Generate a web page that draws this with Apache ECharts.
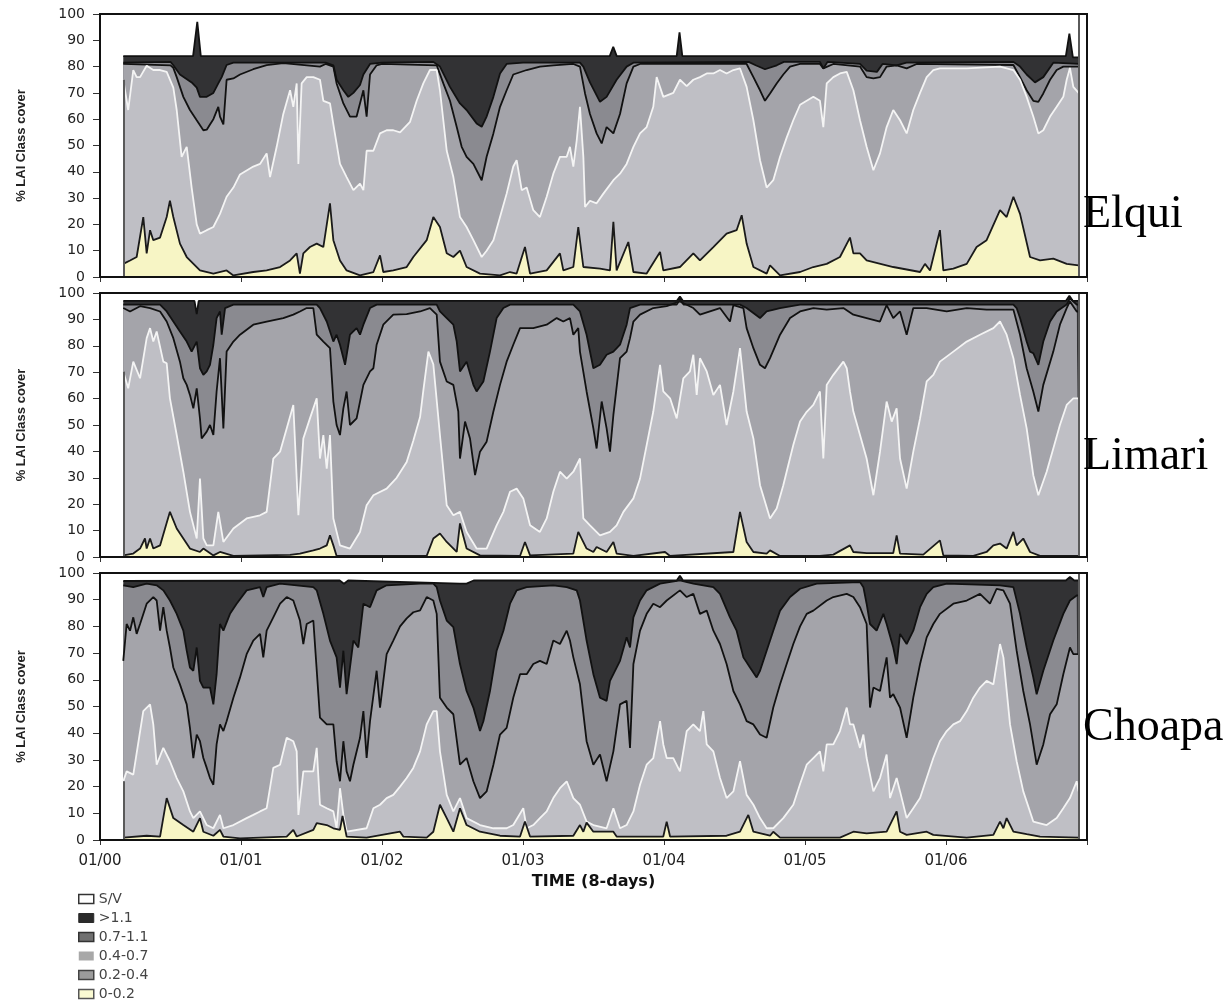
<!DOCTYPE html>
<html>
<head>
<meta charset="utf-8">
<script src="https://cdn.jsdelivr.net/npm/echarts@6/dist/echarts.min.js"></script>
<style>html,body{margin:0;padding:0;background:#fff}#chart{width:1232px;height:1001px}</style>
</head>
<body>
<div id="chart"></div>
<script>
// x values are decimal years since 01/2000; y values are cumulative % LAI class cover
const xTickLabels = ['01/00','01/01','01/02','01/03','01/04','01/05','01/06'];
const classNames = ['S/V','>1.1','0.7-1.1','0.4-0.7','0.2-0.4','0-0.2'];
const regionNames = ['Elqui','Limari','Choapa'];

// total of all classes (S/V included)
const allClasses = [[0.165,100],[6.94,100]];

// ---------- Elqui ----------
const elquiTop = [[0.165,84],[0.66,84],[0.69,97],[0.715,84],[3.615,84],[3.64,87.5],[3.665,84],[4.09,84],[4.11,93],[4.13,84],[6.85,84],[6.875,92.5],[6.9,83.5],[6.94,83.5]];
const elquiLt11 = [[0.165,81.5],[0.5,81.8],[0.52,80.5],[0.567,77],[0.65,74],[0.686,72],[0.709,68.5],[0.757,68.5],[0.804,70],[0.839,73.6],[0.863,76],[0.898,80.6],[0.946,81.5],[1.6,81.5],[1.655,80.5],[1.678,75],[1.726,71],[1.761,68.5],[1.797,70],[1.844,73],[1.868,77],[1.915,81],[2.0,81.5],[2.364,81.8],[2.411,80],[2.482,72.3],[2.553,66],[2.6,63.5],[2.671,58.4],[2.707,57.1],[2.742,61],[2.79,68.5],[2.837,77.4],[2.884,81],[3.0,81.5],[3.404,81.5],[3.428,80],[3.475,74],[3.546,66.6],[3.593,68.5],[3.664,75],[3.735,80],[3.783,81.5],[4.6,81.8],[4.65,80.5],[4.716,79],[4.8,80.5],[4.85,81.8],[5.106,81.8],[5.13,79.3],[5.16,81.8],[5.39,81],[5.437,78.5],[5.51,78],[5.55,81],[5.65,80.5],[5.72,81.5],[6.478,81.8],[6.525,80],[6.572,77],[6.631,74],[6.69,76],[6.761,81.5],[6.94,81]];
const elquiLt07 = [[0.165,81],[0.5,80.5],[0.52,79.5],[0.544,76],[0.591,68.5],[0.638,63.5],[0.686,59.6],[0.733,55.8],[0.757,56],[0.78,58],[0.804,60],[0.839,64.7],[0.851,61],[0.875,58],[0.898,75],[0.946,75.5],[0.993,77],[1.087,79],[1.182,80.6],[1.3,81.3],[1.56,80],[1.6,81],[1.655,80],[1.678,73.6],[1.726,66],[1.773,61],[1.82,61],[1.868,71],[1.891,61],[1.915,77],[1.962,80.5],[2.0,81],[2.388,80.5],[2.435,73.6],[2.482,67],[2.53,57],[2.565,49.5],[2.6,45.7],[2.648,43],[2.707,36.8],[2.742,45.7],[2.79,54.6],[2.837,64.7],[2.884,71],[2.931,77],[3.026,78.7],[3.12,80],[3.215,80.5],[3.357,81],[3.404,80],[3.44,69.8],[3.475,62],[3.522,54.6],[3.558,50.8],[3.593,57],[3.641,54.6],[3.688,62],[3.735,73.6],[3.783,80],[3.83,81],[4.586,81],[4.634,76],[4.681,71],[4.716,67],[4.752,69.8],[4.799,73.6],[4.846,77],[4.894,80],[4.965,81],[5.106,81],[5.13,79.3],[5.201,81],[5.39,80],[5.437,76],[5.485,75.5],[5.532,76],[5.579,80],[5.65,80.5],[5.721,79.3],[5.792,81],[6.478,80.6],[6.525,76],[6.572,71],[6.619,67],[6.655,66.6],[6.69,69.8],[6.738,75],[6.785,78.7],[6.832,80],[6.94,80]];
const elquiLt04 = [[0.165,75],[0.2,63.5],[0.236,78.7],[0.26,76],[0.284,76],[0.331,80.3],[0.378,78.7],[0.426,78.7],[0.473,78],[0.52,72],[0.544,63.5],[0.579,45.7],[0.615,49.5],[0.65,34],[0.686,20],[0.709,16.5],[0.757,17.8],[0.804,19],[0.851,24],[0.898,30.5],[0.946,34],[0.993,39],[1.087,42],[1.135,43],[1.182,47],[1.206,38],[1.253,49.5],[1.3,62],[1.348,71],[1.371,64.7],[1.395,73.6],[1.407,43],[1.43,73.6],[1.466,76],[1.513,76],[1.56,75],[1.584,67],[1.631,66],[1.655,58],[1.702,43],[1.749,38],[1.797,33],[1.844,35.5],[1.868,33],[1.891,48],[1.939,48],[1.986,54.6],[2.033,55.8],[2.08,55.8],[2.128,55],[2.199,59],[2.246,67],[2.293,73.6],[2.34,78.7],[2.388,78.7],[2.411,71],[2.459,48],[2.506,38],[2.553,22.8],[2.6,19],[2.648,14],[2.707,7.6],[2.742,10],[2.79,14],[2.837,22.8],[2.884,31.7],[2.931,42],[2.955,44.4],[2.991,33],[3.026,34],[3.073,25.4],[3.12,22.8],[3.168,30.5],[3.215,39.3],[3.262,45.7],[3.31,45.7],[3.333,49.5],[3.357,42],[3.381,52],[3.404,64.7],[3.428,45.7],[3.44,26.6],[3.475,29],[3.522,28],[3.57,31.7],[3.641,36.8],[3.688,39.3],[3.735,43],[3.783,49.5],[3.83,54.6],[3.877,57],[3.924,64.7],[3.948,76],[3.995,68.5],[4.066,70],[4.113,75],[4.161,72.6],[4.208,75],[4.255,76],[4.303,77.4],[4.35,77.4],[4.397,78.7],[4.444,77.4],[4.492,78.7],[4.539,79.3],[4.586,72.3],[4.634,59.6],[4.681,44.4],[4.728,34],[4.775,36.8],[4.823,45.7],[4.87,53],[4.917,59.6],[4.965,65.5],[5.012,67],[5.059,68.5],[5.106,67],[5.13,57],[5.154,73.6],[5.201,76],[5.248,77.4],[5.296,78],[5.343,71],[5.39,59.6],[5.437,49.5],[5.485,40.6],[5.532,47],[5.579,57],[5.626,63.5],[5.674,59.6],[5.721,54.6],[5.768,63.5],[5.816,70],[5.863,76],[5.91,78.7],[5.957,79.3],[6.147,79.3],[6.383,80],[6.478,78.7],[6.525,75],[6.572,68.5],[6.619,61],[6.655,54.6],[6.69,55.8],[6.738,61],[6.785,64.7],[6.832,68.5],[6.856,75],[6.879,79.5],[6.903,72.3],[6.94,70]];
const elquiLt02 = [[0.165,5],[0.213,6.3],[0.26,7.6],[0.307,22.8],[0.331,9],[0.355,17.8],[0.378,14],[0.426,15],[0.473,22.8],[0.496,29],[0.52,22.8],[0.567,12.7],[0.615,7.6],[0.709,2.5],[0.804,1.3],[0.898,2.5],[0.946,0.6],[1.087,1.9],[1.182,2.5],[1.277,3.8],[1.348,6.3],[1.395,9],[1.418,1.3],[1.442,9],[1.489,11.4],[1.537,12.7],[1.584,11.4],[1.631,28],[1.655,14],[1.702,6.3],[1.749,2.5],[1.844,0.6],[1.939,1.9],[1.986,8.2],[2.009,1.9],[2.08,2.5],[2.175,3.8],[2.222,7.6],[2.317,14],[2.364,22.8],[2.411,19],[2.459,9],[2.506,7.6],[2.553,10],[2.6,3.8],[2.695,1.3],[2.837,0.6],[2.908,1.9],[2.955,1.3],[3.014,11.4],[3.05,1.3],[3.168,2.5],[3.262,9],[3.286,2.5],[3.357,3.8],[3.392,19],[3.428,3.8],[3.546,3.2],[3.617,2.5],[3.641,21],[3.664,2.5],[3.747,13.3],[3.783,1.9],[3.877,1.3],[3.972,9.5],[3.995,2.5],[4.113,3.8],[4.208,9],[4.255,6.3],[4.35,11.4],[4.444,16.5],[4.515,17.8],[4.551,23.5],[4.586,12.7],[4.634,3.8],[4.728,1.3],[4.752,4.4],[4.823,0.6],[4.965,1.9],[5.059,3.8],[5.154,5],[5.248,7.6],[5.319,15],[5.343,9],[5.39,9],[5.437,6.3],[5.626,3.8],[5.816,1.9],[5.851,5],[5.887,2.5],[5.957,17.8],[5.981,2.5],[6.052,3.2],[6.147,5],[6.217,11.4],[6.288,14],[6.383,25.4],[6.43,22.8],[6.478,30.5],[6.525,24],[6.596,7.6],[6.667,6.3],[6.761,7],[6.856,5],[6.94,4.4]];

// ---------- Limari ----------
const limariTop = [[0.165,97],[0.67,97],[0.686,92],[0.7,97],[4.09,97],[4.113,98.7],[4.135,97],[6.85,97],[6.875,99],[6.9,97],[6.94,97]];
const limariLt11 = [[0.165,95.6],[0.426,95.6],[0.473,93],[0.52,89.2],[0.567,85.4],[0.615,81.6],[0.65,77.8],[0.686,81.6],[0.709,71.5],[0.733,69],[0.757,70.3],[0.78,72.8],[0.804,80.4],[0.827,90.5],[0.851,93],[0.863,84.2],[0.887,94.3],[0.946,95.6],[1.537,95.6],[1.56,94.3],[1.608,89.2],[1.655,81.6],[1.678,84.2],[1.702,80.4],[1.738,72.8],[1.773,84.2],[1.82,86.7],[1.844,84.2],[1.868,88],[1.915,94.3],[1.962,95.6],[2.388,95.6],[2.411,93],[2.459,90.5],[2.506,88],[2.53,81.6],[2.553,70.3],[2.6,74],[2.648,65.2],[2.671,62.7],[2.719,66.5],[2.766,77.8],[2.813,90.5],[2.861,94.3],[2.908,95.6],[3.357,95.6],[3.404,93],[3.451,84.2],[3.499,71.5],[3.546,72.8],[3.593,76.6],[3.641,77.8],[3.688,80.4],[3.735,88],[3.759,94.3],[3.83,95.6],[4.09,95.6],[4.113,97.5],[4.14,95.6],[4.539,95.6],[4.586,94.3],[4.681,90.5],[4.728,93],[4.823,94.3],[4.965,95.6],[6.478,95.6],[6.501,94.3],[6.525,90.5],[6.572,81.6],[6.596,77.8],[6.619,77.2],[6.655,72.8],[6.69,81.6],[6.738,89.2],[6.785,93],[6.856,95.6],[6.879,98],[6.927,95.6],[6.94,95.6]];
const limariLt07 = [[0.165,94.3],[0.213,93],[0.284,95],[0.355,94.3],[0.426,93],[0.473,89.2],[0.52,82.9],[0.567,74],[0.591,67.7],[0.615,65.2],[0.638,61.4],[0.662,56.3],[0.686,63.9],[0.709,52.5],[0.721,44.9],[0.757,47.5],[0.78,50],[0.804,46.2],[0.827,62.7],[0.851,75.3],[0.875,48.7],[0.898,77.8],[0.946,81.6],[0.993,84.2],[1.087,88],[1.182,89.2],[1.3,90.5],[1.371,91.8],[1.418,93],[1.466,94.3],[1.513,94.3],[1.537,84.2],[1.584,81.6],[1.631,79.1],[1.655,58.9],[1.678,50],[1.702,46.2],[1.726,56.3],[1.749,62.7],[1.773,50],[1.82,52.5],[1.868,65.2],[1.915,70.3],[1.939,71.5],[1.962,80.4],[2.009,88],[2.08,91.8],[2.175,92],[2.27,93],[2.34,94.3],[2.388,91.8],[2.411,74],[2.459,66.5],[2.506,65.2],[2.541,55.1],[2.553,37.3],[2.589,51.3],[2.624,44.9],[2.66,31],[2.695,39.9],[2.742,43.7],[2.79,55.1],[2.837,65.2],[2.884,74],[2.931,80.4],[2.979,86.7],[3.073,86.7],[3.168,88],[3.239,90.5],[3.286,89.2],[3.333,90.5],[3.357,84.2],[3.392,86.7],[3.404,77.8],[3.451,62.7],[3.499,48.7],[3.522,41.1],[3.558,58.9],[3.593,48.7],[3.617,39.9],[3.641,53.8],[3.688,75.3],[3.735,77.8],[3.759,82.9],[3.783,89.2],[3.83,91.8],[3.924,94.3],[4.019,95],[4.113,96.8],[4.208,94.3],[4.255,91.8],[4.397,94.3],[4.468,89.2],[4.492,95.4],[4.563,94.3],[4.586,86.7],[4.634,79.1],[4.681,72.8],[4.716,71.5],[4.752,75.3],[4.823,84.2],[4.894,90.5],[4.965,93],[5.059,94.3],[5.154,93.7],[5.272,94.3],[5.343,91.8],[5.437,90.5],[5.532,89.2],[5.579,95.4],[5.626,90.5],[5.674,93],[5.721,84.2],[5.768,94.3],[5.863,94.3],[6.005,93],[6.147,94.3],[6.288,93.7],[6.478,93.7],[6.525,84.2],[6.572,71.5],[6.619,62.7],[6.655,55.1],[6.69,65.2],[6.761,77.8],[6.808,88],[6.856,94.3],[6.879,96.8],[6.927,93],[6.94,93]];
const limariLt04 = [[0.165,70.3],[0.2,63.9],[0.236,74],[0.284,67.7],[0.331,82.9],[0.355,86.7],[0.378,81.6],[0.402,85.4],[0.449,74],[0.473,73.4],[0.496,60.1],[0.544,46.2],[0.591,32.3],[0.638,17.1],[0.686,7],[0.709,29.7],[0.733,7],[0.757,4.4],[0.804,4.4],[0.839,17.1],[0.875,5.7],[0.946,10.8],[1.04,14.6],[1.135,15.8],[1.182,17.1],[1.229,37.3],[1.277,39.9],[1.324,48.7],[1.371,57.6],[1.407,15.8],[1.442,44.9],[1.489,52.5],[1.537,60.1],[1.56,37.3],[1.584,46.2],[1.608,33.5],[1.631,46.2],[1.655,14.6],[1.702,4.4],[1.773,3.2],[1.844,9.5],[1.891,19.6],[1.939,23.4],[2.033,25.9],[2.104,30],[2.175,36],[2.222,44],[2.27,53],[2.293,63],[2.329,77.8],[2.364,73],[2.411,46.2],[2.459,19.6],[2.506,15.8],[2.553,17.1],[2.6,9.5],[2.671,3.2],[2.742,3.2],[2.813,12],[2.861,17.1],[2.908,24.7],[2.955,25.9],[3.002,22.2],[3.05,12],[3.12,9.5],[3.168,14.6],[3.215,24.7],[3.262,32.3],[3.31,29.7],[3.357,32.3],[3.404,37.3],[3.428,14.6],[3.475,12],[3.546,8.2],[3.617,9.5],[3.664,12],[3.712,17.1],[3.783,22.2],[3.83,29.7],[3.877,42.4],[3.924,55.1],[3.972,72.8],[3.995,62.7],[4.043,60.1],[4.09,52.5],[4.137,67.7],[4.184,70.3],[4.208,76.6],[4.232,61.4],[4.255,75.3],[4.303,70.3],[4.35,61.4],[4.397,65.2],[4.444,50],[4.492,62.7],[4.539,79.1],[4.586,55.1],[4.634,44.9],[4.681,27.2],[4.752,14.6],[4.799,18.4],[4.846,27.2],[4.917,42.4],[4.965,51.3],[5.012,55],[5.059,57.6],[5.106,62.7],[5.13,37.3],[5.154,65.2],[5.201,69],[5.272,74],[5.296,71.5],[5.319,62.7],[5.343,55.1],[5.39,46.2],[5.437,37.3],[5.485,23.4],[5.532,39.9],[5.579,58.9],[5.615,51.3],[5.65,56.3],[5.674,37.3],[5.721,25.9],[5.768,39.9],[5.816,52.5],[5.863,66.5],[5.91,69],[5.957,74],[6.052,77.8],[6.147,81.6],[6.241,84.2],[6.336,86.7],[6.383,89.2],[6.43,84.2],[6.478,75.3],[6.525,61.4],[6.572,48.7],[6.619,31],[6.655,23.4],[6.714,32.3],[6.761,41.1],[6.808,50],[6.856,57.6],[6.903,60.1],[6.94,60.1]];
const limariLt02 = [[0.165,0.6],[0.236,1.3],[0.284,3.2],[0.319,7],[0.331,3.2],[0.355,7],[0.378,3.2],[0.426,4.4],[0.496,17.1],[0.544,10.8],[0.591,7],[0.638,3.2],[0.709,1.9],[0.733,3.2],[0.804,0.6],[0.851,1.9],[0.946,0.4],[1.348,0.8],[1.418,1.3],[1.513,2.5],[1.56,3.2],[1.608,4.4],[1.631,8.2],[1.655,4.4],[1.667,4.4],[1.678,0.4],[2.317,0.4],[2.364,7],[2.411,8.9],[2.459,5.7],[2.53,1.9],[2.553,12.7],[2.6,3.2],[2.695,0.6],[2.979,0.4],[3.014,5.7],[3.05,0.6],[3.357,1.3],[3.392,9.5],[3.451,3.2],[3.499,1.9],[3.522,3.8],[3.593,1.9],[3.641,5.7],[3.664,1.3],[3.783,0.4],[4.007,1.9],[4.043,0.4],[4.492,1.9],[4.539,17.1],[4.586,5.7],[4.634,1.9],[4.728,1.3],[4.752,2.5],[4.823,0.4],[5.106,0.4],[5.201,0.9],[5.319,4.4],[5.343,1.9],[5.437,1.5],[5.626,1.5],[5.65,8.2],[5.674,1.3],[5.839,0.9],[5.957,6.3],[5.981,0.6],[6.194,0.4],[6.288,1.9],[6.336,4.4],[6.383,5.1],[6.43,3.2],[6.478,9.5],[6.501,4.4],[6.548,7],[6.596,1.9],[6.667,0.4],[6.94,0.4]];

// ---------- Choapa ----------
const choapaTop = [[0.165,97],[1.7,97.2],[1.73,96],[1.76,97.2],[2.55,96],[2.6,96],[2.65,97.2],[4.09,97.2],[4.113,99],[4.135,97.2],[6.85,97.2],[6.879,98.5],[6.91,97.2],[6.94,97.2]];
const choapaLt11 = [[0.165,95.4],[0.236,94.7],[0.331,96],[0.402,95.4],[0.449,93.5],[0.496,89.7],[0.544,84.7],[0.591,78.4],[0.615,70.9],[0.638,64.6],[0.662,63.4],[0.686,72.1],[0.709,59.6],[0.733,57.1],[0.78,57.1],[0.804,50.8],[0.827,62.1],[0.851,80.9],[0.875,78.4],[0.922,84.7],[0.969,88.5],[1.04,93.5],[1.135,94.7],[1.158,91],[1.182,94.7],[1.277,96],[1.513,94.7],[1.537,93.5],[1.584,84.7],[1.631,74.7],[1.678,68.4],[1.702,57.1],[1.726,70.9],[1.749,54.6],[1.797,74.7],[1.832,72.1],[1.868,88.5],[1.915,87.2],[1.962,93.5],[2.033,95.4],[2.27,96],[2.364,96],[2.388,94.7],[2.411,89.7],[2.459,82.2],[2.506,79.7],[2.553,65.9],[2.6,55.8],[2.648,49.6],[2.695,40.8],[2.719,44.5],[2.766,55.8],[2.813,70.9],[2.861,78.4],[2.908,88.5],[2.955,93.5],[3.026,94.7],[3.215,95.4],[3.31,94.7],[3.381,93.5],[3.404,89.7],[3.451,74.7],[3.499,62.1],[3.546,53.3],[3.593,52.1],[3.617,59.6],[3.641,62.1],[3.688,67.1],[3.735,75.9],[3.759,72.1],[3.783,83.4],[3.83,89.7],[3.877,93.5],[3.972,96],[4.113,97.2],[4.208,96],[4.35,94.7],[4.397,92.2],[4.468,83.4],[4.515,78.4],[4.563,68.4],[4.61,64.6],[4.657,60.9],[4.681,63.4],[4.728,70.9],[4.775,78.4],[4.823,85.9],[4.894,91],[4.965,94.1],[5.083,96],[5.39,96.6],[5.414,94.7],[5.437,88.5],[5.461,80.9],[5.508,78.4],[5.556,84.7],[5.579,80.9],[5.626,72.1],[5.65,65.9],[5.674,77.2],[5.721,73.4],[5.768,78.4],[5.816,87.2],[5.863,92.2],[5.91,94.7],[6.005,96],[6.383,95.4],[6.478,94.7],[6.525,84.7],[6.572,72.1],[6.619,60.9],[6.643,54.6],[6.69,63.4],[6.761,74.7],[6.832,84.7],[6.879,89.7],[6.927,91.6],[6.94,91.6]];
const choapaLt07 = [[0.165,67.1],[0.189,80.9],[0.213,78.4],[0.236,83.4],[0.26,77.2],[0.284,80.9],[0.331,88.5],[0.378,91],[0.402,89.7],[0.426,78.4],[0.449,87.2],[0.473,78.4],[0.496,72.1],[0.52,64.6],[0.567,58.3],[0.615,50.8],[0.638,42],[0.662,30.7],[0.686,39.5],[0.709,37],[0.733,30.7],[0.757,27],[0.78,23.2],[0.804,20.7],[0.827,35.8],[0.851,43.3],[0.875,40.8],[0.898,44.5],[0.946,53.3],[0.993,60.9],[1.04,69.6],[1.087,74.7],[1.135,77.2],[1.158,68.4],[1.182,78.4],[1.229,83.4],[1.277,88.5],[1.324,91],[1.371,89.7],[1.418,82.2],[1.442,73.4],[1.466,80.9],[1.513,82.2],[1.56,45.8],[1.608,43.3],[1.655,43.3],[1.678,29.5],[1.702,22],[1.726,37],[1.749,25.7],[1.773,22],[1.797,28.2],[1.844,38.3],[1.868,48.3],[1.891,30.7],[1.915,44.5],[1.962,63.4],[1.986,49.6],[2.033,69.6],[2.08,74.7],[2.128,80],[2.175,83],[2.222,85.3],[2.27,86],[2.317,91],[2.364,89.7],[2.388,84.7],[2.411,53.3],[2.459,49.6],[2.506,47.1],[2.553,28.2],[2.6,30.7],[2.648,22],[2.695,15.7],[2.742,18.2],[2.79,28.2],[2.837,39.5],[2.884,42],[2.931,53.3],[2.979,62.1],[3.026,62.1],[3.073,65.9],[3.12,67.1],[3.168,65.9],[3.215,74.7],[3.262,73.4],[3.31,78.4],[3.333,74.7],[3.357,68.4],[3.404,58.3],[3.451,37],[3.499,28.2],[3.546,32],[3.593,22],[3.641,33.2],[3.688,50.8],[3.735,52.1],[3.759,34.5],[3.783,65.9],[3.83,78.4],[3.877,84.7],[3.924,88.5],[3.972,87.2],[4.019,89.7],[4.113,93.5],[4.161,91],[4.208,92.2],[4.255,84.7],[4.303,85.9],[4.35,78.4],[4.397,73.4],[4.444,65.9],[4.492,55.8],[4.539,50.8],[4.586,44.5],[4.634,43.3],[4.681,39.5],[4.728,38.3],[4.775,49.6],[4.823,58.3],[4.87,65.9],[4.917,73.4],[4.965,80],[5.012,84.7],[5.059,85.9],[5.154,89.7],[5.201,91],[5.296,92.2],[5.343,91],[5.39,87.2],[5.437,80.9],[5.461,49.6],[5.485,57.1],[5.532,55.8],[5.579,68.4],[5.603,53.3],[5.626,54.6],[5.674,49.6],[5.721,38.3],[5.768,53.3],[5.816,65.9],[5.863,75.9],[5.91,80.9],[5.957,84.7],[6.052,88.5],[6.147,89.7],[6.241,92.2],[6.312,88.5],[6.359,94.1],[6.407,93.5],[6.454,88.5],[6.501,70.9],[6.548,55.8],[6.596,43.3],[6.643,28.2],[6.69,35.8],[6.738,47.1],[6.785,50.8],[6.832,62.1],[6.879,72.1],[6.903,69.6],[6.94,69.6]];
const choapaLt04 = [[0.165,22],[0.189,25.7],[0.236,24.5],[0.307,48.3],[0.355,50.8],[0.378,43.3],[0.402,28.2],[0.449,34.5],[0.496,29.5],[0.544,23.2],[0.591,18.2],[0.638,10.7],[0.662,8.2],[0.709,10.7],[0.757,5.6],[0.804,4.4],[0.851,9.4],[0.875,4.4],[0.946,5.6],[1.04,8.2],[1.087,9.4],[1.135,10.7],[1.182,11.9],[1.229,27],[1.277,28.2],[1.324,38.3],[1.371,37],[1.395,33.2],[1.407,9.4],[1.442,25.7],[1.513,25.7],[1.537,34.5],[1.56,13.2],[1.608,11.9],[1.655,10.7],[1.678,4.4],[1.702,19.4],[1.726,9.5],[1.75,3.1],[1.891,4.4],[1.939,11.9],[1.986,13.2],[2.033,15.7],[2.08,16.9],[2.128,20],[2.175,23.2],[2.222,27],[2.27,33.2],[2.317,43.3],[2.364,48.3],[2.388,48.3],[2.411,33.2],[2.459,16.9],[2.506,10.7],[2.553,15.7],[2.6,8.2],[2.695,5.6],[2.79,4.4],[2.884,4.4],[2.931,5.6],[3.002,11.9],[3.026,4.4],[3.073,5.6],[3.12,8.2],[3.168,10.7],[3.215,15.7],[3.262,19.4],[3.31,22],[3.357,15.7],[3.404,13.2],[3.451,6.9],[3.499,5.6],[3.593,4.4],[3.641,11.9],[3.688,4.4],[3.735,5.6],[3.783,10.7],[3.83,20.7],[3.877,28.2],[3.924,30.7],[3.972,44.5],[3.995,35.8],[4.019,30.7],[4.066,30.7],[4.113,25.7],[4.161,40.8],[4.208,43.3],[4.255,40.8],[4.279,48.3],[4.303,35.8],[4.35,33.2],[4.397,23.2],[4.444,15.7],[4.492,18.2],[4.539,29.5],[4.586,16.9],[4.634,13.2],[4.681,8.2],[4.728,4.4],[4.775,4.4],[4.846,8.2],[4.917,13.2],[4.965,21],[5.012,28.2],[5.059,30.7],[5.106,33.2],[5.13,25.7],[5.154,35.8],[5.201,35.8],[5.248,40.8],[5.296,49.6],[5.319,43.3],[5.343,43.3],[5.39,34.5],[5.414,39.5],[5.437,30.7],[5.485,18.2],[5.532,23.2],[5.579,32],[5.603,15.7],[5.65,23.2],[5.674,18.2],[5.721,8.2],[5.768,11.9],[5.816,15.7],[5.863,23.2],[5.91,30.7],[5.957,37],[6.005,40.8],[6.052,43.3],[6.099,44.5],[6.147,48.3],[6.194,53.3],[6.241,57.1],[6.288,59.6],[6.336,58.3],[6.383,73.4],[6.407,68.4],[6.454,43.3],[6.501,29.5],[6.548,18.2],[6.619,6.9],[6.714,5.6],[6.785,8.2],[6.832,11.9],[6.879,15.7],[6.927,22],[6.94,18.2]];
const choapaLt02 = [[0.165,0.9],[0.331,1.6],[0.426,1.3],[0.473,15.7],[0.52,8.2],[0.591,5.6],[0.662,3.1],[0.709,8.2],[0.733,3.1],[0.804,1.6],[0.851,3.8],[0.875,1.3],[0.993,0.6],[1.324,1.3],[1.371,3.8],[1.395,1.3],[1.513,3.8],[1.537,6.3],[1.608,5.6],[1.655,4.4],[1.702,3.8],[1.72,9],[1.749,1.3],[1.891,0.9],[2.128,3.1],[2.151,1.3],[2.317,0.9],[2.364,3.1],[2.411,13.2],[2.459,8.2],[2.506,3.1],[2.553,11.9],[2.6,5.6],[2.695,3.1],[2.837,1.6],[2.979,1.3],[3.014,6.9],[3.05,1.3],[3.357,1.6],[3.404,5.6],[3.428,3.1],[3.451,6.5],[3.499,3.1],[3.641,3.1],[3.664,1.3],[3.995,1.3],[4.019,6.9],[4.043,1.3],[4.444,1.6],[4.539,3.1],[4.598,9.4],[4.634,3.1],[4.752,1.6],[4.775,3.1],[4.823,0.9],[5.248,0.9],[5.343,3.1],[5.437,2.5],[5.579,3.1],[5.65,10.7],[5.674,3.1],[5.721,1.9],[5.863,3.1],[5.91,1.9],[6.147,0.9],[6.336,1.9],[6.383,6.9],[6.407,4.4],[6.43,8.2],[6.478,3.1],[6.572,2.2],[6.667,1.3],[6.94,0.9]];

const panelData = [
  [allClasses, elquiTop, elquiLt11, elquiLt07, elquiLt04, elquiLt02],
  [allClasses, limariTop, limariLt11, limariLt07, limariLt04, limariLt02],
  [allClasses, choapaTop, choapaLt11, choapaLt07, choapaLt04, choapaLt02]
];

// ---------- styles / layout ----------
const fills = ['#ffffff', '#323234', '#8a8a90', '#a4a4aa', '#bfbfc5', '#f7f5c5'];
const lineCols = [null, '#111111', '#111111', '#111111', '#f4f4f4', '#1a1a1a'];
const legendSwatch = [
  {color:'#ffffff', borderColor:'#333', borderWidth:1.5},
  {color:'#2a2a2a', borderColor:'#2a2a2a', borderWidth:1},
  {color:'#707070', borderColor:'#333', borderWidth:1.5},
  {color:'#a8a8a8', borderColor:'#a8a8a8', borderWidth:0},
  {color:'#9c9c9c', borderColor:'#444', borderWidth:1.5},
  {color:'#fafad2', borderColor:'#555', borderWidth:1.5}
];
const gridBoxes = [
  {left:100, top:14, width:987, height:263},
  {left:100, top:293, width:987, height:264},
  {left:100, top:573, width:987, height:267}
];
const labelTops = [192, 434, 705];

const chart = echarts.init(document.getElementById('chart'), null, {renderer:'canvas', width:1232, height:1001});

const grid = gridBoxes.map(b => ({left:b.left, top:b.top, width:b.width, height:b.height, containLabel:false}));
const xAxis = gridBoxes.map((b, i) => ({
  gridIndex:i, type:'value', min:0, max:7, interval:1,
  axisLine:{show:false}, splitLine:{show:false},
  axisTick:{show:true, length:5, lineStyle:{color:'#333', width:1}},
  axisLabel:{show:i === 2, margin:14, fontSize:15, fontFamily:'DejaVu Sans', color:'#222',
    formatter: v => (xTickLabels[v] !== undefined ? xTickLabels[v] : '')},
  name: i === 2 ? 'TIME (8-days)' : '', nameLocation:'middle', nameGap:34,
  nameTextStyle:{fontWeight:'bold', fontSize:16, fontFamily:'DejaVu Sans', color:'#111'}
}));
const yAxis = gridBoxes.map((b, i) => ({
  gridIndex:i, type:'value', min:0, max:100, interval:10,
  axisLine:{show:false}, splitLine:{show:false},
  axisTick:{show:true, length:7, lineStyle:{color:'#333', width:1}},
  axisLabel:{margin:15, fontSize:14, fontFamily:'DejaVu Sans', color:'#222'},
  name:'% LAI Class cover', nameLocation:'middle', nameGap:72, nameRotate:90,
  nameTextStyle:{fontWeight:'bold', fontSize:13, fontFamily:'Liberation Sans', color:'#222'}
}));

const series = [];
panelData.forEach((arrs, p) => {
  arrs.forEach((data, k) => {
    const s = {
      name: classNames[k], type:'line', xAxisIndex:p, yAxisIndex:p,
      data: data, symbol:'none', showSymbol:false, smooth:false, animation:false, silent:true,
      lineStyle: lineCols[k] ? {color: lineCols[k], width: 1.8} : {width:0, opacity:0},
      itemStyle:{color: fills[k]},
      areaStyle: k === 0 ? undefined : {color: fills[k], opacity:1},
      z: 2
    };
    if (k === arrs.length - 1) {
      const first = arrs[4][0];
      const last = data[data.length - 1];
      s.markLine = {
        silent:true, symbol:'none', animation:false, label:{show:false},
        lineStyle:{color:'#5a5a5a', width:2, type:'solid'},
        data:[
          {xAxis: last[0]},
          [{coord:[first[0], 0]}, {coord:[first[0], first[1]]}]
        ]
      };
    }
    series.push(s);
  });
});

const graphic = [];
gridBoxes.forEach((b, i) => {
  graphic.push({type:'rect', z:100, silent:true,
    shape:{x:b.left, y:b.top, width:b.width, height:b.height},
    style:{fill:'none', stroke:'#111', lineWidth:2}});
  graphic.push({type:'text', z:100, left:1083, top:labelTops[i], silent:true,
    style:{text:regionNames[i], font:'46px "Liberation Serif"', fill:'#000'}});
});

chart.setOption({
  animation:false,
  backgroundColor:'#ffffff',
  grid, xAxis, yAxis, series, graphic,
  legend:{
    orient:'vertical', left:78, top:892, height:200, padding:0, itemWidth:15, itemHeight:9, itemGap:5,
    selectedMode:false,
    textStyle:{fontSize:14, lineHeight:13, fontFamily:'DejaVu Sans', color:'#444'},
    data: classNames.map((n, k) => ({name:n, icon:'rect', itemStyle:legendSwatch[k]}))
  }
});
</script>
</body>
</html>
